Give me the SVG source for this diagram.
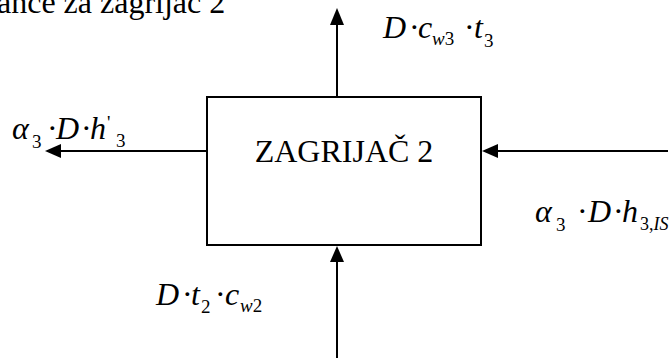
<svg xmlns="http://www.w3.org/2000/svg" width="672" height="358" viewBox="0 0 672 358">
<rect width="672" height="358" fill="#fff"/>
<text x="-3" y="13" font-size="32" font-family="Liberation Serif">ance za zagrijač 2</text>
<g id="connectors">
<line x1="337" y1="97" x2="337" y2="24" stroke="#000" stroke-width="2"/>
<polygon points="330,25 344,25 337,8" fill="#000"/>
<line x1="337" y1="358" x2="337" y2="261" stroke="#000" stroke-width="2"/>
<polygon points="330,262 344,262 337,246" fill="#000"/>
<line x1="207" y1="151" x2="60" y2="151" stroke="#000" stroke-width="2"/>
<polygon points="61,144 61,158 45,151" fill="#000"/>
<line x1="668" y1="151" x2="497" y2="151" stroke="#000" stroke-width="2"/>
<polygon points="498,144 498,158 482,151" fill="#000"/>
</g>
<g id="zagrijac2">
<rect x="207" y="97" width="274" height="148" fill="none" stroke="#000" stroke-width="2"/>
<text x="344" y="162" font-size="32" text-anchor="middle" font-family="Liberation Serif">ZAGRIJAČ 2</text>
</g>
<g id="label-top">
<text y="38" font-size="32" font-family="Liberation Serif"><tspan font-style="italic" x="383">D</tspan><tspan font-style="italic" x="418">c</tspan><tspan font-size="19" font-style="italic" x="432" y="45">w</tspan><tspan font-size="19">3</tspan><tspan font-style="italic" x="474" y="38">t</tspan><tspan font-size="19" x="484" y="47">3</tspan></text>
<text x="409" y="38" font-size="32" font-family="Liberation Serif">·</text>
<text x="464" y="38" font-size="32" font-family="Liberation Serif">·</text>
</g>
<g id="label-left">
<text y="139" font-size="32" font-family="Liberation Serif"><tspan font-style="italic" x="12">α</tspan><tspan font-size="19" x="32" y="148">3</tspan><tspan font-style="italic" x="56" y="139">D</tspan><tspan font-style="italic" x="90">h</tspan><tspan font-size="19" x="107" y="129">'</tspan><tspan font-size="19" x="116" y="147">3</tspan></text>
<text x="47" y="139" font-size="32" font-family="Liberation Serif">·</text>
<text x="81" y="139" font-size="32" font-family="Liberation Serif">·</text>
</g>
<g id="label-right">
<text y="222" font-size="32" font-family="Liberation Serif"><tspan font-style="italic" x="535">α</tspan><tspan font-size="19" x="556" y="231">3</tspan><tspan font-style="italic" x="588" y="222">D</tspan><tspan font-style="italic" x="622">h</tspan><tspan font-size="18" x="640" y="230">3,</tspan><tspan font-size="18" font-style="italic">IS</tspan></text>
<text x="577" y="222" font-size="32" font-family="Liberation Serif">·</text>
<text x="613" y="222" font-size="32" font-family="Liberation Serif">·</text>
</g>
<g id="label-bottom">
<text y="305" font-size="32" font-family="Liberation Serif"><tspan font-style="italic" x="156">D</tspan><tspan font-style="italic" x="191">t</tspan><tspan font-size="19" x="201" y="313">2</tspan><tspan font-style="italic" x="225" y="305">c</tspan><tspan font-size="19" font-style="italic" x="240" y="312">w</tspan><tspan font-size="19">2</tspan></text>
<text x="182" y="305" font-size="32" font-family="Liberation Serif">·</text>
<text x="215" y="305" font-size="32" font-family="Liberation Serif">·</text>
</g>
</svg>
